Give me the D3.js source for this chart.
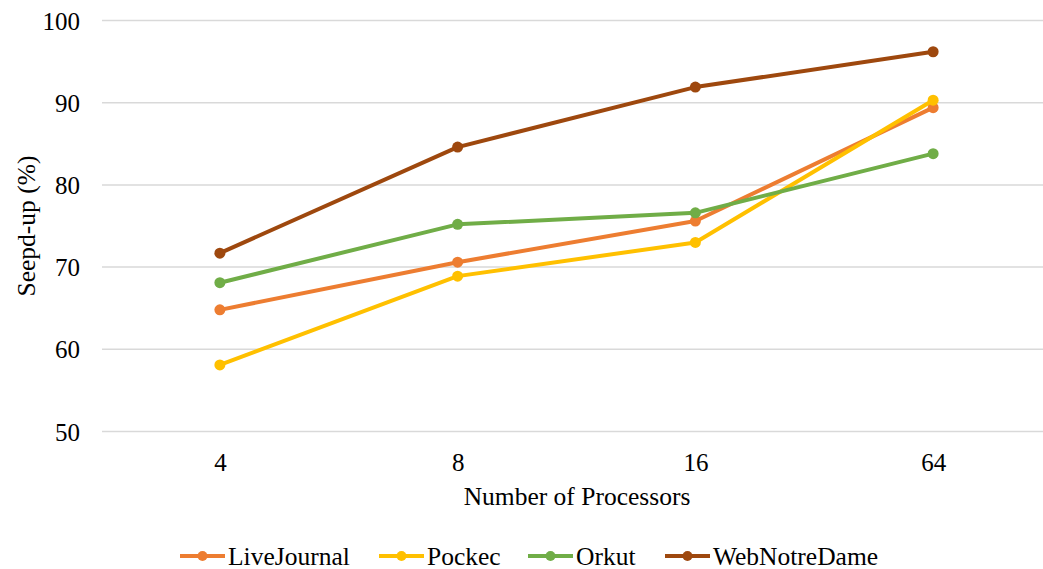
<!DOCTYPE html>
<html>
<head>
<meta charset="utf-8">
<script src="https://cdn.jsdelivr.net/npm/d3@7"></script>
<style>
  html, body { margin: 0; padding: 0; background: #fff; }
  svg { display: block; }
</style>
</head>
<body>
<svg id="speedup" width="1043" height="569"></svg>
<script>
// Processor counts on the x axis
const processors = ["4", "8", "16", "64"];
// Speed-up (%) per dataset
const liveJournal = [64.8, 70.6, 75.6, 89.4];
const pockec = [58.1, 68.9, 73.0, 90.3];
const orkut = [68.1, 75.2, 76.6, 83.8];
const webNotreDame = [71.7, 84.6, 91.9, 96.2];
const seriesNames = ["LiveJournal", "Pockec", "Orkut", "WebNotreDame"];
const yTicks = [50, 60, 70, 80, 90, 100];

const seriesColors = ["#ED7D31", "#FFC000", "#70AD47", "#9E480E"];
const series = [liveJournal, pockec, orkut, webNotreDame].map((values, i) => ({
  name: seriesNames[i],
  color: seriesColors[i],
  values
}));

const FONT = "Liberation Serif";
const TICK_SIZE = 25;
const LABEL_SIZE = 25.5;

// Serif face on every text node, both as attribute and inline style
function serif(sel, size) {
  return sel
    .attr("font-family", FONT)
    .attr("font-size", size)
    .style("font-family", "'Liberation Serif', 'Times New Roman', serif", "important")
    .style("font-size", size + "px", "important");
}

const svg = d3.select("#speedup");
const plot = { left: 101, right: 1052, top: 20.5, bottom: 431.5 };

const x = d3.scalePoint().domain(processors).range([plot.left, plot.right]).padding(0.5);
const y = d3.scaleLinear().domain([50, 100]).range([plot.bottom, plot.top]);

// Horizontal gridlines
svg.append("g")
  .selectAll("line")
  .data(yTicks)
  .join("line")
  .attr("x1", plot.left + 1)
  .attr("x2", 1043)
  .attr("y1", d => y(d))
  .attr("y2", d => y(d))
  .attr("stroke", "#d9d9d9")
  .attr("stroke-width", 1.5);

// Y axis labels
const yAxis = svg.append("g")
  .attr("transform", `translate(${plot.left - 21},0)`)
  .call(d3.axisLeft(y).tickValues(yTicks).tickSize(0).tickPadding(0));
yAxis.attr("font-family", FONT).attr("font-size", TICK_SIZE);
yAxis.select(".domain").remove();
serif(yAxis.selectAll("text"), TICK_SIZE)
  .attr("dy", "0.34em")
  .attr("fill", "#000");

// X axis labels
const xAxis = svg.append("g")
  .attr("transform", `translate(0,${plot.bottom + 22})`)
  .call(d3.axisBottom(x).tickSize(0).tickPadding(0));
xAxis.attr("font-family", FONT).attr("font-size", TICK_SIZE);
xAxis.select(".domain").remove();
serif(xAxis.selectAll("text"), TICK_SIZE)
  .attr("dy", "0.71em")
  .attr("fill", "#000");

// Axis titles
serif(svg.append("text"), LABEL_SIZE)
  .attr("x", 577)
  .attr("y", 505)
  .attr("text-anchor", "middle")
  .attr("fill", "#000")
  .text("Number of Processors");

serif(svg.append("text"), LABEL_SIZE)
  .attr("transform", `translate(35,${(plot.top + plot.bottom) / 2}) rotate(-90)`)
  .attr("text-anchor", "middle")
  .attr("fill", "#000")
  .text("Seepd-up (%)");

// Lines and markers
const line = d3.line()
  .x((d, i) => x(processors[i]))
  .y(d => y(d));

const groups = svg.append("g")
  .selectAll("g")
  .data(series)
  .join("g");

groups.append("path")
  .attr("d", d => line(d.values))
  .attr("fill", "none")
  .attr("stroke", d => d.color)
  .attr("stroke-width", 4)
  .attr("stroke-linejoin", "round")
  .attr("stroke-linecap", "round");

groups.selectAll("circle")
  .data(d => d.values.map((v, i) => ({ v, i, color: d.color })))
  .join("circle")
  .attr("cx", d => x(processors[d.i]))
  .attr("cy", d => y(d.v))
  .attr("r", 5.5)
  .attr("fill", d => d.color);

// Legend
const legendX = [180, 379, 528, 665];
const legend = svg.append("g")
  .selectAll("g")
  .data(series)
  .join("g")
  .attr("transform", (d, i) => `translate(${legendX[i]},556)`);

legend.append("line")
  .attr("x1", 0).attr("x2", 45)
  .attr("y1", 0).attr("y2", 0)
  .attr("stroke", d => d.color)
  .attr("stroke-width", 4);

legend.append("circle")
  .attr("cx", 22.5).attr("cy", 0).attr("r", 5)
  .attr("fill", d => d.color);

serif(legend.append("text"), LABEL_SIZE)
  .attr("x", 48)
  .attr("y", 0)
  .attr("dy", "0.34em")
  .attr("fill", "#000")
  .text(d => d.name);
</script>
</body>
</html>
